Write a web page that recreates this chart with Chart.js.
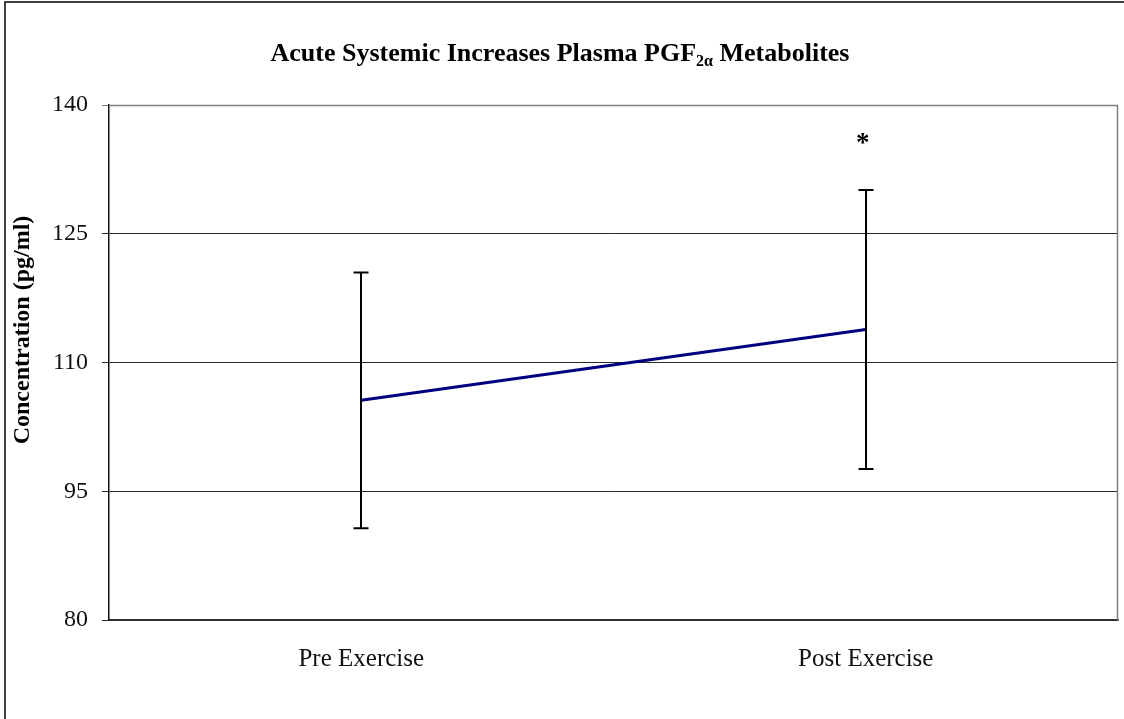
<!DOCTYPE html>
<html>
<head>
<meta charset="utf-8">
<script src="https://cdn.jsdelivr.net/npm/chart.js@4.4.1/dist/chart.umd.min.js"></script>
<style>
  html, body { margin: 0; padding: 0; background: #fff; }
  #wrap { width: 1124px; height: 719px; position: relative; }
</style>
</head>
<body>
<div id="wrap"><canvas id="c"></canvas></div>
<script>
const categories = ['Pre Exercise', 'Post Exercise'];
const meanValues = [105.6, 113.85];
const errorValues = [14.9, 16.25];
const asteriskValues = [null, 136.2];
const yTicks = [80, 95, 110, 125, 140];

const FONT = "'Liberation Serif', 'DejaVu Serif', serif";

const decorPlugin = {
  id: 'decor',
  afterDatasetsDraw(chart) {
    const ctx = chart.ctx;
    const xs = chart.scales.x, ys = chart.scales.y;
    ctx.save();
    // error bars
    ctx.strokeStyle = '#000';
    ctx.lineWidth = 2;
    meanValues.forEach((m, i) => {
      const x = Math.round(xs.getPixelForValue(i));
      const yt = ys.getPixelForValue(m + errorValues[i]);
      const yb = ys.getPixelForValue(m - errorValues[i]);
      ctx.beginPath();
      ctx.moveTo(x, yt); ctx.lineTo(x, yb);
      ctx.moveTo(x - 7.5, yt); ctx.lineTo(x + 7.5, yt);
      ctx.moveTo(x - 7.5, yb); ctx.lineTo(x + 7.5, yb);
      ctx.stroke();
    });
    // asterisk
    ctx.fillStyle = '#000';
    ctx.font = 'bold 27px ' + FONT;
    ctx.textAlign = 'center';
    ctx.textBaseline = 'middle';
    asteriskValues.forEach((v, i) => {
      if (v === null) return;
      ctx.fillText('*', xs.getPixelForValue(i) - 3, ys.getPixelForValue(v) + 6);
    });
    ctx.restore();
  },
  afterDraw(chart) {
    const ctx = chart.ctx;
    const a = chart.chartArea;
    ctx.save();
    // plot area top/right border (gray)
    ctx.strokeStyle = '#808080';
    ctx.lineWidth = 1.5;
    ctx.beginPath();
    ctx.moveTo(a.left, a.top + 0.5);
    ctx.lineTo(a.right - 0.5, a.top + 0.5);
    ctx.lineTo(a.right - 0.5, a.bottom);
    ctx.stroke();
    // outer frame
    ctx.strokeStyle = '#000';
    ctx.lineWidth = 1.5;
    ctx.beginPath();
    ctx.moveTo(5, 719);
    ctx.lineTo(5, 2);
    ctx.lineTo(1124, 2);
    ctx.stroke();
    // title with subscript
    const parts = [
      { t: 'Acute Systemic Increases Plasma PGF', f: 'bold 26px ' + FONT, dy: 0 },
      { t: '2\u03b1', f: 'bold 16px ' + FONT, dy: 5 },
      { t: ' Metabolites', f: 'bold 26px ' + FONT, dy: 0 }
    ];
    let total = 0;
    parts.forEach(p => { ctx.font = p.f; p.w = ctx.measureText(p.t).width; total += p.w; });
    let x = 560 - total / 2;
    const base = 61;
    ctx.fillStyle = '#000';
    ctx.textAlign = 'left';
    ctx.textBaseline = 'alphabetic';
    parts.forEach(p => { ctx.font = p.f; ctx.fillText(p.t, x, base + p.dy); x += p.w; });
    // y axis title
    ctx.translate(23, 330);
    ctx.rotate(-Math.PI / 2);
    ctx.font = 'bold 24px ' + FONT;
    ctx.textAlign = 'center';
    ctx.textBaseline = 'middle';
    ctx.fillText('Concentration (pg/ml)', 0, 0);
    ctx.restore();
  }
};

new Chart(document.getElementById('c'), {
  type: 'line',
  data: {
    labels: categories,
    datasets: [{
      data: meanValues,
      borderColor: '#000080',
      borderWidth: 3,
      pointRadius: 0,
      fill: false,
      tension: 0
    }]
  },
  options: {
    responsive: true,
    maintainAspectRatio: false,
    animation: false,
    events: [],
    layout: { padding: { top: 105, right: 6, left: 0, bottom: 0 } },
    plugins: { legend: { display: false }, tooltip: { enabled: false }, title: { display: false } },
    scales: {
      x: {
        offset: true,
        grid: { display: false, drawTicks: false },
        border: { display: true, color: '#333', width: 1.5 },
        ticks: { color: '#111', font: { family: FONT, size: 25 }, padding: 24, maxRotation: 0 },
        afterFit(scale) { scale.height = 99; }
      },
      y: {
        min: 80, max: 140,
        afterBuildTicks(scale) { scale.ticks = yTicks.map(v => ({ value: v })); },
        grid: {
          color(ctx) { return ctx.tick && ctx.tick.value === 140 ? '#808080' : '#2a2a2a'; },
          lineWidth: 1,
          tickLength: 7,
          drawTicks: true
        },
        border: { display: true, color: '#111', width: 1.5 },
        ticks: { color: '#111', font: { family: FONT, size: 24 }, padding: 14 },
        afterFit(scale) { scale.width = 109; }
      }
    }
  },
  plugins: [decorPlugin]
});
</script>
</body>
</html>
